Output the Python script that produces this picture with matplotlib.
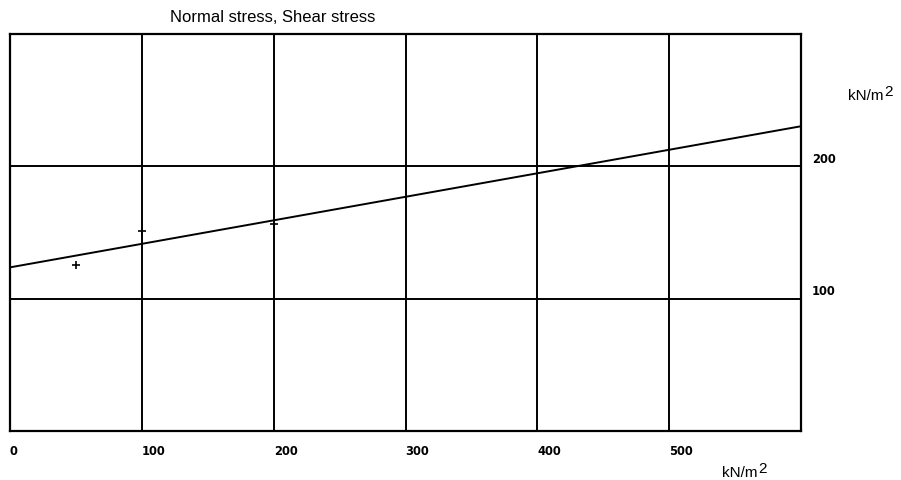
import matplotlib.pyplot as plt

plt.rcParams['font.family'] = ['Liberation Sans', 'DejaVu Sans']

# measured points (normal stress, shear stress) in kN/m2
normal = [50, 100, 200]
shear = [125.5, 150.8, 156.3]

# fitted failure line
line_x = [0, 600]
line_y = [123.5, 230]

x_ticks = [0, 100, 200, 300, 400, 500]
y_ticks = [100, 200]

W, H = 901, 481
fig = plt.figure(figsize=(W / 100, H / 100), dpi=100)
ax = fig.add_axes([10 / W, 1 - 432 / H, 791 / W, 397.5 / H])

ax.set_xlim(0, 600)
ax.set_ylim(0, 300)

for x in range(100, 600, 100):
    ax.axvline(x, color='black', lw=1.4)
for y in y_ticks:
    ax.axhline(y, color='black', lw=1.4)
for s in ax.spines.values():
    s.set_linewidth(1.6)

ax.plot(line_x, line_y, color='black', lw=1.4)
ax.plot(normal, shear, '+', color='black', ms=6, mew=1.2)

ax.set_xticks([])
ax.set_yticks([])

tick_font = dict(family='DejaVu Sans', fontsize=8.3, fontweight='bold')
for x in x_ticks:
    ax.text(x, -0.05, str(x), transform=ax.get_xaxis_transform(),
            ha='left', va='center', **tick_font)
for y in y_ticks:
    ax.text(1.014, y + 6, str(y), transform=ax.get_yaxis_transform(),
            ha='left', va='center', **tick_font)

renderer = fig.canvas.get_renderer()


def unit_label(x0, yc):
    # "kN/m" followed by a large raised 2, as in the original
    t = fig.text(x0 / W, 1 - yc / H, 'kN/m', ha='left', va='center', fontsize=11)
    bb = t.get_window_extent(renderer=renderer)
    fig.text((bb.x1 + 0.5) / W, 1 - (yc - 4) / H, '2', ha='left', va='center', fontsize=11)


unit_label(722, 473)
unit_label(848, 96)

fig.text(273 / W, 1 - 17.5 / H, 'Normal stress, Shear stress',
         ha='center', va='center', fontsize=12)

fig.savefig('out.png', dpi=100)
